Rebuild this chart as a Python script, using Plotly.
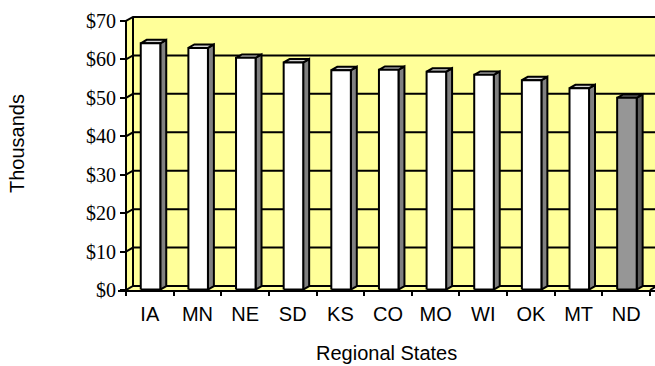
import plotly.graph_objects as go

# ---- data -------------------------------------------------------------
states = ["IA", "MN", "NE", "SD", "KS", "CO", "MO", "WI", "OK", "MT", "ND"]
income_k = [64.1, 62.9, 60.3, 59.1, 57.1, 57.2, 56.7, 55.9, 54.5, 52.4, 49.9]
highlight_state = "ND"
value_ticks = [0, 10, 20, 30, 40, 50, 60, 70]
value_tick_text = ["$" + str(v) for v in value_ticks]

# ---- geometry / style -------------------------------------------------
W, H = 655, 366
M_L, M_R, M_T, M_B = 118, 0, 12, 76
CAT_PX = 47.64          # pixels per category slot
VAL_PX = 3.843          # pixels per $1K
AXIS_PX = 126           # pixel x of the front value axis
DEPTH_X = 7 / CAT_PX    # 3-D depth offset, in category units
DEPTH_Y = 4 / VAL_PX    # 3-D depth offset, in value units
BAR_W = 0.41
D_FRONT, D_BACK = 0.1, 0.95  # bar depth span as fractions of the wall depth

WALL = "#FFFF99"
INK = "black"
BAR_FRONT, BAR_SIDE, BAR_TOP = "#FFFFFF", "#808080", "#D4D4D4"
HI_FRONT, HI_SIDE, HI_TOP = "#969696", "#5A5A5A", "#7A7A7A"

n = len(states)
x_left = -0.5
x_right = n - 0.5
v_top = value_ticks[-1]

x_lo = x_left - (AXIS_PX - M_L) / CAT_PX
x_hi = x_lo + (W - M_L - M_R) / CAT_PX
y_hi = (H - M_T - M_B) / VAL_PX


def polys(shapes):
    xs, ys = [], []
    for pts in shapes:
        for px, py in pts + [pts[0]]:
            xs.append(px)
            ys.append(py)
        xs.append(None)
        ys.append(None)
    return xs, ys


def filled(shapes, fill, line_w=0):
    xs, ys = polys(shapes)
    return go.Scatter(x=xs, y=ys, mode="lines", fill="toself", fillcolor=fill,
                      line=dict(color=INK, width=line_w), hoverinfo="skip",
                      showlegend=False)


fig = go.Figure()

# walls and floor
back_wall = [(x_left + DEPTH_X, DEPTH_Y), (x_right + DEPTH_X, DEPTH_Y),
             (x_right + DEPTH_X, v_top + DEPTH_Y), (x_left + DEPTH_X, v_top + DEPTH_Y)]
side_wall = [(x_left, 0), (x_left + DEPTH_X, DEPTH_Y),
             (x_left + DEPTH_X, v_top + DEPTH_Y), (x_left, v_top)]
floor = [(x_left, 0), (x_right, 0), (x_right + DEPTH_X, DEPTH_Y), (x_left + DEPTH_X, DEPTH_Y)]
fig.add_trace(filled([back_wall, side_wall, floor], WALL))

# gridlines: across the side wall, then along the back wall
gx, gy = [], []
for v in value_ticks:
    gx += [x_left, x_left + DEPTH_X, x_right + DEPTH_X, None]
    gy += [v, v + DEPTH_Y, v + DEPTH_Y, None]
gx += [x_left + DEPTH_X, x_left + DEPTH_X, None, x_right, x_right + DEPTH_X, None,
       x_left, x_left, None]
gy += [DEPTH_Y, v_top + DEPTH_Y, None, 0, DEPTH_Y, None, 0, v_top, None]
fig.add_trace(go.Scatter(x=gx, y=gy, mode="lines", line=dict(color=INK, width=2),
                         hoverinfo="skip", showlegend=False))

# 3-D columns
groups = {
    False: dict(side=[], top=[], front=[]),
    True: dict(side=[], top=[], front=[]),
}
for i, (s, v) in enumerate(zip(states, income_k)):
    x0f = i - BAR_W / 2 + D_FRONT * DEPTH_X
    x1f = i + BAR_W / 2 + D_FRONT * DEPTH_X
    x0b = i - BAR_W / 2 + D_BACK * DEPTH_X
    x1b = i + BAR_W / 2 + D_BACK * DEPTH_X
    y0f, y0b = D_FRONT * DEPTH_Y, D_BACK * DEPTH_Y
    g = groups[s == highlight_state]
    g["side"].append([(x1f, y0f), (x1b, y0b), (x1b, v + y0b), (x1f, v + y0f)])
    g["top"].append([(x0f, v + y0f), (x1f, v + y0f), (x1b, v + y0b), (x0b, v + y0b)])
    g["front"].append([(x0f, y0f), (x1f, y0f), (x1f, v + y0f), (x0f, v + y0f)])

for hi, (c_front, c_side, c_top) in ((False, (BAR_FRONT, BAR_SIDE, BAR_TOP)),
                                      (True, (HI_FRONT, HI_SIDE, HI_TOP))):
    g = groups[hi]
    fig.add_trace(filled(g["side"], c_side, 2))
    fig.add_trace(filled(g["top"], c_top, 2))
    fig.add_trace(filled(g["front"], c_front, 2))

# carrier for the category boundary ticks
fig.add_trace(go.Scatter(x=[], y=[], xaxis="x2", showlegend=False, hoverinfo="skip"))

sans = "Liberation Sans, Arial, sans-serif"
serif = "Liberation Serif, Times New Roman, serif"
plot_w = W - M_L - M_R
plot_h = H - M_T - M_B

fig.update_layout(
    width=W, height=H,
    margin=dict(l=M_L, r=M_R, t=M_T, b=M_B, pad=0),
    paper_bgcolor="white", plot_bgcolor="white",
    showlegend=False,
    xaxis=dict(range=[x_lo, x_hi], tickmode="array", tickvals=list(range(n)),
               ticktext=states, ticks="", ticklabelstandoff=5,
               showline=True, linecolor=INK, linewidth=2,
               showgrid=False, zeroline=False, automargin=False,
               tickfont=dict(family=sans, size=20, color=INK)),
    xaxis2=dict(range=[x_lo, x_hi], overlaying="x", anchor="y", side="bottom",
                tickmode="array", tickvals=[i - 0.5 for i in range(n + 1)],
                ticks="outside", ticklen=5, tickwidth=2, tickcolor=INK,
                showticklabels=False, showgrid=False, zeroline=False,
                showline=False, automargin=False),
    yaxis=dict(range=[0, y_hi], anchor="free",
               position=(AXIS_PX - M_L) / plot_w,
               tickmode="array", tickvals=value_ticks, ticktext=value_tick_text,
               ticks="outside", ticklen=6, tickwidth=2, tickcolor=INK,
               showline=False, showgrid=False, zeroline=False, automargin=False,
               tickfont=dict(family=serif, size=20, color=INK)),
    annotations=[
        dict(text="Thousands", xref="paper", yref="paper",
             x=(17 - M_L) / plot_w, y=(H - M_B - 144) / plot_h,
             textangle=-90, showarrow=False, xanchor="center", yanchor="middle",
             font=dict(family=sans, size=20, color=INK)),
        dict(text="Regional States", xref="paper", yref="paper",
             x=(386 - M_L) / plot_w, y=-(353 - (H - M_B)) / plot_h,
             showarrow=False, xanchor="center", yanchor="middle",
             font=dict(family=sans, size=20, color=INK)),
    ],
)

fig.write_html("out.html")
